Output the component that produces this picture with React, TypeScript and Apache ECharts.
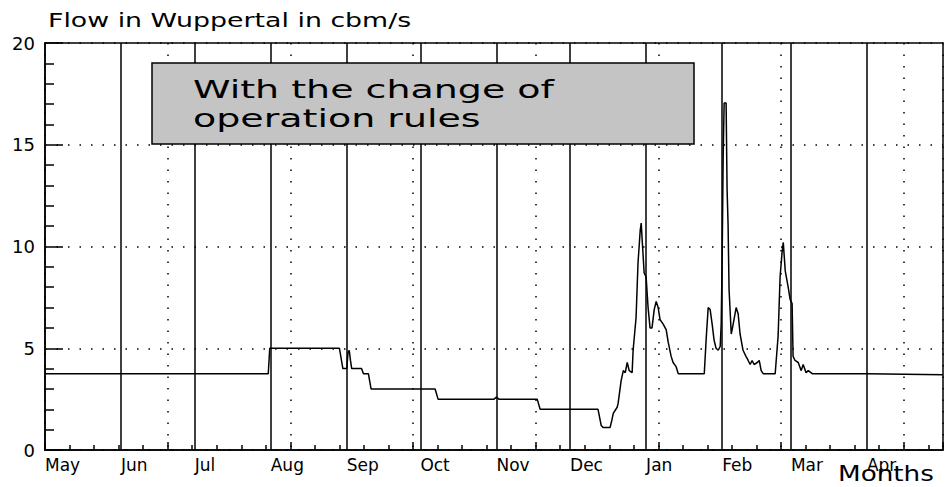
import React, { useEffect, useRef } from "react";
import * as echarts from "echarts";

// Months of the hydrological year (May .. April), start day of each month
const monthNames = ["May", "Jun", "Jul", "Aug", "Sep", "Oct", "Nov", "Dec", "Jan", "Feb", "Mar", "Apr"];
const monthStarts = [0, 31, 61, 92, 123, 153, 184, 214, 245, 276, 304, 335];

// Axis scales
const xMax = 366;
const xMajor = 50;
const yMax = 20;
const yMajor = 5;

// Flow series: day of year (from 1 May) and flow in cbm/s
const days = [
  0, 91, 91.6, 120, 121.4, 123, 123.5, 124, 124.5, 125, 129, 129.8, 131.8, 132.9,
  159, 160.2, 183, 184, 185, 200.6, 201.8, 225.4, 226.7, 227.5, 230.3, 231.1, 231.6,
  233.2, 233.6, 234.8, 235.7, 236.5, 237.3, 238.1, 239.3, 239.7, 240.9, 241.7, 242.6,
  243, 243.4, 244.2, 245, 245.8, 246.6, 247.4, 248.3, 249.1, 249.9, 250.7, 251.9,
  253.2, 254, 255.2, 256, 257.2, 258.1, 268.7, 269.5, 270.3, 271.1, 271.9, 272.7,
  273.5, 274.4, 275.2, 275.6, 276, 276.4, 276.8, 277.6, 278, 278.4, 278.8, 279.7,
  280.5, 281.7, 282.5, 283.3, 284.5, 285.7, 286.6, 287.4, 288.2, 289, 290.3, 291.1,
  291.9, 292.7, 297.6, 298.8, 299.6, 300.4, 300.9, 301.7, 302.9, 303.7, 304.5, 304.9,
  305.7, 307, 308.2, 309, 310.2, 311.1, 312.7, 335, 366,
];
const flow = [
  3.75, 3.75, 5.0, 5.0, 4.0, 4.0, 4.8, 4.9, 4.4, 4.0, 4.0, 3.75, 3.75, 3.0,
  3.0, 2.5, 2.5, 2.6, 2.5, 2.5, 2.0, 2.0, 1.2, 1.1, 1.1, 1.5, 1.8,
  2.1, 2.3, 3.4, 3.9, 3.8, 4.3, 3.9, 3.8, 4.9, 6.5, 9.2, 10.8,
  11.15, 10.3, 8.7, 8.5, 7.0, 6.0, 6.0, 6.9, 7.3, 7.0, 6.4, 6.2,
  5.9, 5.3, 4.6, 4.3, 4.1, 3.75, 3.75, 5.5, 7.0, 6.9, 6.2, 5.4,
  5.0, 4.9, 5.1, 6.2, 9.5, 14.4, 17.05, 17.05, 12.8, 11.1, 7.9, 5.7,
  6.2, 7.0, 6.7, 5.7, 4.9, 4.6, 4.4, 4.2, 4.4, 4.2, 4.3, 4.4,
  3.9, 3.75, 3.75, 5.6, 8.5, 9.7, 10.2, 8.8, 8.0, 7.4, 7.2, 4.6,
  4.4, 4.3, 3.9, 4.2, 3.8, 3.9, 3.75, 3.75, 3.7,
];

const titleText = "Flow in Wuppertal in cbm/s";
const noteLines = ["With the change of", "operation rules"];
const xAxisName = "Months";

const FONT = "'DejaVu Sans', 'Liberation Sans', sans-serif";

export default function App() {
  const ref = useRef<HTMLDivElement>(null);

  useEffect(() => {
    if (!ref.current) return;
    const chart = echarts.init(ref.current, undefined, { renderer: "svg" });
    const dotted = { type: [1.5, 10] as any, color: "#000", width: 1.5 };
    const tickLine = { color: "#000", width: 1.5 };
    const option: any = {
      animation: false,
      backgroundColor: "#fff",
      grid: {
        left: 45,
        right: 4,
        top: 43,
        bottom: 37,
        show: true,
        borderColor: "#000",
        borderWidth: 1.5,
        backgroundColor: "transparent",
        containLabel: false,
        outerBoundsMode: "none",
      },
      xAxis: {
        type: "value",
        min: 0,
        max: xMax,
        interval: xMajor,
        axisLine: { show: true, onZero: false, lineStyle: { color: "#000", width: 1.5 } },
        axisTick: { show: true, inside: true, length: 8, lineStyle: tickLine },
        minorTick: { show: true, splitNumber: 5, length: 5, lineStyle: tickLine },
        splitLine: { show: true, lineStyle: dotted },
        axisLabel: {
          customValues: monthStarts,
          formatter: (v: number) => {
            const i = monthStarts.indexOf(v);
            return i >= 0 ? monthNames[i] : "";
          },
          align: "left",
          margin: 6,
          fontSize: 17,
          fontFamily: FONT,
          color: "#000",
          showMinLabel: true,
        },
      },
      yAxis: {
        type: "value",
        min: 0,
        max: yMax,
        interval: yMajor,
        axisLine: { show: true, onZero: false, lineStyle: { color: "#000", width: 1.5 } },
        axisTick: { show: true, inside: true, length: 18, lineStyle: tickLine },
        minorTick: { show: true, splitNumber: 5, length: 9, lineStyle: tickLine },
        splitLine: { show: true, lineStyle: dotted },
        axisLabel: { fontSize: 18, fontFamily: FONT, color: "#000", margin: 10 },
      },
      series: [
        {
          type: "line",
          name: "Flow",
          data: days.map((d, i) => [d, flow[i]]),
          symbol: "none",
          lineStyle: { color: "#000", width: 1.5 },
          z: 5,
          markLine: {
            silent: true,
            symbol: ["none", "none"],
            label: { show: false },
            lineStyle: { type: "solid", color: "#000", width: 1.5 },
            data: monthStarts.slice(1).map((d) => ({ xAxis: d })),
          },
        },
      ],
      graphic: [
        {
          type: "text",
          x: 48,
          y: 20,
          scaleX: 1.41,
          style: {
            text: titleText,
            fontSize: 19,
            fontFamily: FONT,
            fill: "#000",
            verticalAlign: "middle",
          },
        },
        {
          type: "rect",
          z: 10,
          shape: { x: 152, y: 63, width: 542, height: 81 },
          style: { fill: "#c4c4c4", stroke: "#000", lineWidth: 1.5 },
        },
        {
          type: "text",
          z: 11,
          x: 193,
          y: 89.5,
          scaleX: 1.55,
          style: {
            text: noteLines[0],
            fontSize: 24.5,
            fontFamily: FONT,
            fill: "#000",
            verticalAlign: "middle",
          },
        },
        {
          type: "text",
          z: 11,
          x: 193,
          y: 118.5,
          scaleX: 1.55,
          style: {
            text: noteLines[1],
            fontSize: 24.5,
            fontFamily: FONT,
            fill: "#000",
            verticalAlign: "middle",
          },
        },
        {
          type: "text",
          x: 838,
          y: 474,
          scaleX: 1.25,
          style: {
            text: xAxisName,
            fontSize: 21,
            fontFamily: FONT,
            fill: "#000",
            verticalAlign: "middle",
          },
        },
      ],
    };
    chart.setOption(option);
    return () => chart.dispose();
  }, []);

  return (
    <div
      ref={ref}
      style={{ position: "fixed", left: 0, top: 0, width: 947, height: 487, background: "#fff" }}
    />
  );
}
